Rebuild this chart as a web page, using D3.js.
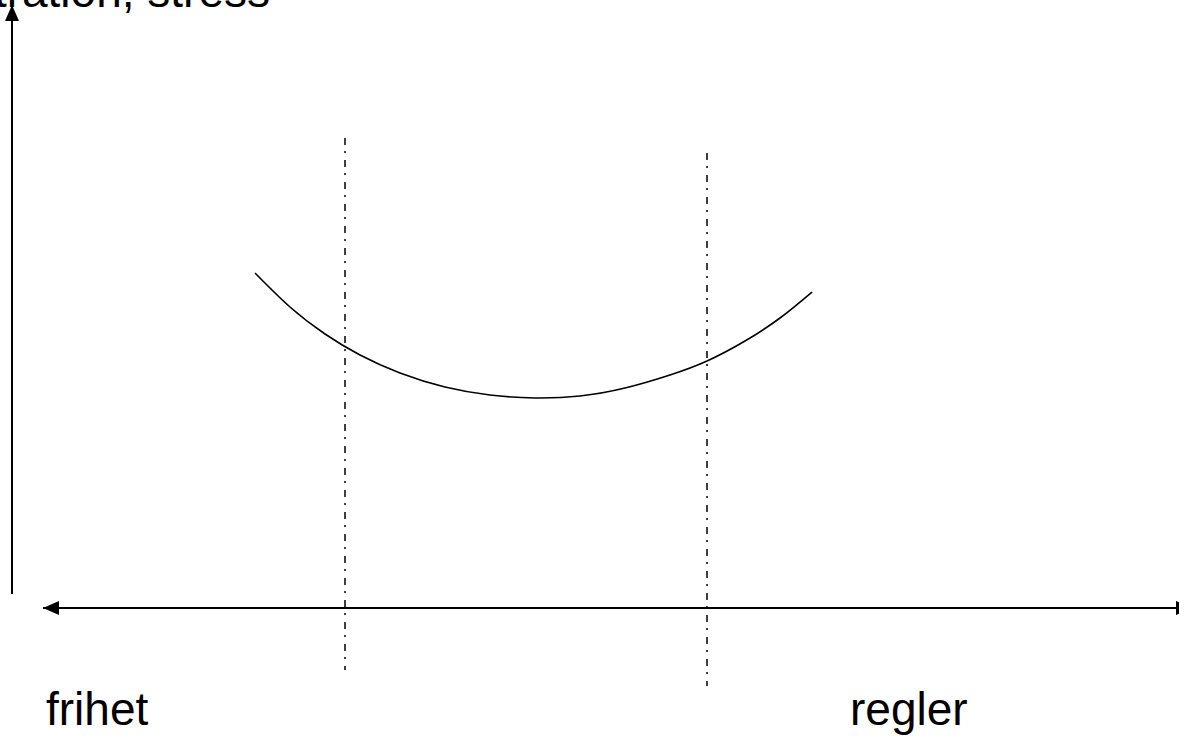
<!DOCTYPE html>
<html>
<head>
<meta charset="utf-8">
<script src="https://cdn.jsdelivr.net/npm/d3@7"></script>
<style>
  html, body { margin: 0; padding: 0; background: #fff; overflow: hidden; }
  svg { display: block; }
</style>
</head>
<body>
<div id="wrapper"></div>
<script>
// curve: stress as a function of freedom -> rules
const curveX = [243, 278, 313, 348, 388, 433, 478, 523, 568, 613, 658, 695, 733, 768, 800]
const curveY = [334, 300, 273, 252, 234, 220, 212, 209, 211, 219, 232, 246, 266, 289, 315]
// dash-dot guide lines
const guideX = [333, 695]
const guideTop = [469, 454]
const guideBottom = [-63, -79]
const yLabel = "Frustration, stress"
const xLabels = ["frihet", "regler"]

function draw() {
  const dimensions = {
    width: 1179,
    height: 737,
    originX: 12,
    originY: 607,
  }

  const svg = d3.select("#wrapper")
    .append("svg")
    .attr("width", dimensions.width)
    .attr("height", dimensions.height)

  const xScale = d3.scaleLinear()
    .domain([0, 1167])
    .range([dimensions.originX, dimensions.originX + 1167])
  const yScale = d3.scaleLinear()
    .domain([0, 600])
    .range([dimensions.originY, dimensions.originY - 600])

  const defs = svg.append("defs")
  defs.append("marker")
    .attr("id", "arrow")
    .attr("viewBox", "0 0 16 14")
    .attr("refX", 16)
    .attr("refY", 7)
    .attr("markerWidth", 16)
    .attr("markerHeight", 14)
    .attr("markerUnits", "userSpaceOnUse")
    .attr("orient", "auto-start-reverse")
    .append("path")
    .attr("d", "M0,0 L16,7 L0,14 Z")
    .attr("fill", "#000")

  // y axis
  svg.append("line")
    .attr("x1", xScale(0)).attr("y1", yScale(13))
    .attr("x2", xScale(0)).attr("y2", yScale(602))
    .attr("stroke", "#000")
    .attr("stroke-width", 2)
    .attr("marker-end", "url(#arrow)")

  // x axis (double arrow)
  svg.append("line")
    .attr("x1", xScale(31)).attr("y1", yScale(-1))
    .attr("x2", xScale(1180)).attr("y2", yScale(-1))
    .attr("stroke", "#000")
    .attr("stroke-width", 2)
    .attr("marker-start", "url(#arrow)")
    .attr("marker-end", "url(#arrow)")

  // guides
  svg.selectAll(".guide")
    .data(guideX)
    .join("line")
    .attr("class", "guide")
    .attr("x1", d => xScale(d)).attr("x2", d => xScale(d))
    .attr("y1", (d, i) => yScale(guideTop[i]))
    .attr("y2", (d, i) => yScale(guideBottom[i]))
    .attr("stroke", "#000")
    .attr("stroke-width", 1.5)
    .attr("stroke-dasharray", "7,6,2,7")

  // curve
  const pts = curveX.map((x, i) => [x, curveY[i]])
  const line = d3.line()
    .x(d => xScale(d[0]))
    .y(d => yScale(d[1]))
    .curve(d3.curveNatural)
  svg.append("path")
    .attr("d", line(pts))
    .attr("fill", "none")
    .attr("stroke", "#000")
    .attr("stroke-width", 1.6)

  // labels
  svg.append("text")
    .attr("x", 270)
    .attr("y", 7)
    .attr("text-anchor", "end")
    .attr("font-family", "Liberation Sans, Arial, sans-serif")
    .attr("font-size", 46)
    .text(yLabel)

  svg.selectAll(".xlabel")
    .data(xLabels)
    .join("text")
    .attr("class", "xlabel")
    .attr("x", (d, i) => i === 0 ? 46 : 850)
    .attr("y", 725)
    .attr("font-family", "Liberation Sans, Arial, sans-serif")
    .attr("font-size", 46)
    .text(d => d)
}

draw()
</script>
</body>
</html>
